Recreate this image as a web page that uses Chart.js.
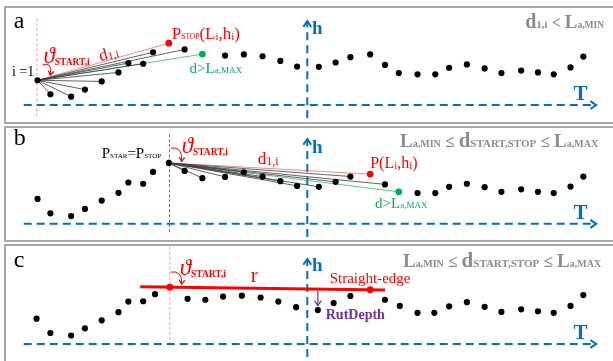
<!DOCTYPE html>
<html>
<head>
<meta charset="utf-8">
<script src="https://cdn.jsdelivr.net/npm/chart.js@4"></script>
<style>
  body { margin: 0; background: #fff; width: 613px; height: 361px; overflow: hidden; position: relative; }
  .box { position: absolute; left: 4px; width: 640px; border: 2px solid #a8a8a8; box-sizing: border-box; }
  canvas { position: absolute; left: 0; }
</style>
</head>
<body>
<div class="box" style="top:6px;height:118px"></div>
<div class="box" style="top:126px;height:116px"></div>
<div class="box" style="top:244px;height:130px"></div>
<canvas id="pa" width="613" height="120" style="top:0"></canvas>
<canvas id="pb" width="613" height="120" style="top:120px"></canvas>
<canvas id="pc" width="613" height="121" style="top:240px"></canvas>
<script>
const SERIF  = '"Liberation Serif", "DejaVu Serif", serif';
const BLUE   = '#0070c0';
const RED    = '#ff0000';
const GREEN  = '#00b050';
const GRAY   = '#8c8c8c';
const PURPLE = '#7030a0';

// profile stations (T) and heights (h)
const T_AB = [14, 27, 48, 62, 79, 96, 106, 121, 131, 147, 163, 181, 204, 223, 242, 260, 277,
              299, 316, 331, 351, 366, 380, 399, 417, 431, 449, 467, 484, 504, 521, 537, 554, 567];
const H_A  = [26.6, 11.6, 9, 16.6, 25.3, 35, 45, 44.3, 56.6, 66.3, 59.6, 54.6, 53, 54.3, 52.3, 47.3, 41.3,
              41, 45.6, 51.3, 54.3, 43, 34.3, 33, 33, 40, 43.6, 39.3, 34.3, 37, 35, 33, 40.3, 52];
const H_B  = [26.7, 11.3, 8.3, 16, 25, 33.3, 44.3, 43, 55.7, 65.3, 56.7, 49, 50.3, 55.3, 50.7, 45.7, 40.7,
              39.7, 45, 50.7, 53.3, 42.3, 34.3, 33, 33, 39.7, 43, 39.3, 34.3, 37, 34.3, 33, 40, 50.7];
const T_C  = [13, 27, 48, 62, 79, 96, 106, 121, 133, 148, 166, 184, 202, 221, 240, 258, 276,
              298, 314, 331, 351, 366, 381, 399, 416, 431, 449, 467, 484, 504, 521, 537, 554, 567];
const H_C  = [27, 11.7, 9, 16.7, 25.3, 34, 45.3, 45.7, 53.3, 60.7, 48.3, 47.3, 50.7, 51.7, 49.7, 45.3, 39.3,
              36.3, 43.7, 51.3, 58, 47.3, 40.7, 33.3, 33.3, 40.3, 44.7, 39.7, 34.3, 37, 35, 33.3, 40.7, 52.3];

// start / stop / first point beyond La,MAX for each panel
const FAN_A = { start: 0, stop: 9, far: 11 };
const FAN_B = { start: 9, stop: 20, far: 22 };
const EDGE_C = { start: 9, stop: 20 };

// ---- helpers ----
function rich(ctx, x, y, runs, color, align) {
  // runs: [text, size, bold, italic, dy]
  const font = r => (r[3] ? 'italic ' : '') + (r[2] ? 'bold ' : '') + r[1] + 'px ' + SERIF;
  let w = 0;
  runs.forEach(r => { ctx.font = font(r); w += ctx.measureText(r[0]).width; });
  if (align === 'right') x -= w;
  if (align === 'center') x -= w / 2;
  ctx.fillStyle = color;
  ctx.textBaseline = 'alphabetic';
  runs.forEach(r => {
    ctx.font = font(r);
    ctx.fillText(r[0], x, y + (r[4] || 0));
    x += ctx.measureText(r[0]).width;
  });
}

function dashed(ctx, pts, color, width, dash) {
  ctx.save();
  ctx.strokeStyle = color; ctx.lineWidth = width; ctx.setLineDash(dash);
  ctx.beginPath(); ctx.moveTo(pts[0][0], pts[0][1]); ctx.lineTo(pts[1][0], pts[1][1]); ctx.stroke();
  ctx.restore();
}

function head(ctx, x, y, ang, size, color, width) {
  ctx.save();
  ctx.strokeStyle = color; ctx.lineWidth = width; ctx.setLineDash([]);
  ctx.beginPath();
  ctx.moveTo(x - size * Math.cos(ang - 0.6), y - size * Math.sin(ang - 0.6));
  ctx.lineTo(x, y);
  ctx.lineTo(x - size * Math.cos(ang + 0.6), y - size * Math.sin(ang + 0.6));
  ctx.stroke();
  ctx.restore();
}

function curl(ctx, a, c, b, color) {
  ctx.save();
  ctx.strokeStyle = color; ctx.lineWidth = 1;
  ctx.beginPath(); ctx.moveTo(a[0], a[1]); ctx.quadraticCurveTo(c[0], c[1], b[0], b[1]); ctx.stroke();
  head(ctx, b[0], b[1], Math.atan2(b[1] - c[1], b[0] - c[0]), 5, color, 1.2);
  ctx.restore();
}

const THETA = [['\u03D1', 23, false, true], ['START,i', 9.5, true, false, 2]];
const COND_MINMAX = [['L', 19, true], ['a,MIN', 10, true, false, 0], [' \u2264 ', 17, true], ['d', 21, true],
                     ['START,STOP', 11, true, false, 0], [' \u2264 ', 17, true], ['L', 19, true], ['a,MAX', 10, true, false, 0]];
const D_GT = [['d>L', 15], ['a,MAX', 9, false, false, 0]];

function axesPlugin(hTop, vLine) {
  return {
    id: 'axes',
    beforeDatasetsDraw(chart) {
      const { ctx, scales: { x, y } } = chart;
      const P = (t, h) => [x.getPixelForValue(t), y.getPixelForValue(h)];
      // red dashed line through the start point
      dashed(ctx, [P(vLine[0], vLine[1]), P(vLine[0], vLine[2])], vLine[3], 1, [3, 2]);
      // blue axes
      dashed(ctx, [P(0, 0), P(578, 0)], BLUE, 2, [8, 5]);
      dashed(ctx, [P(287.3, -14), P(287.3, hTop)], BLUE, 2, [8, 5]);
      const tip = P(580, 0), top = P(287.3, hTop);
      head(ctx, tip[0], tip[1], 0, 7, BLUE, 2);
      head(ctx, top[0], top[1], -Math.PI / 2, 7, BLUE, 2);
    }
  };
}

function labelsPlugin(draw) {
  return {
    id: 'labels',
    afterDatasetsDraw(chart) {
      const { ctx, scales: { x, y } } = chart;
      const P = (t, h) => [x.getPixelForValue(t), y.getPixelForValue(h)];
      ctx.save();
      draw(ctx, P);
      ctx.restore();
    }
  };
}

function pointSets(T, H, red, green) {
  const black = [];
  T.forEach((t, i) => { if (!red.includes(i) && i !== green) black.push({ x: t, y: H[i] }); });
  const sets = [{ type: 'scatter', data: black, backgroundColor: '#000', borderWidth: 0, pointRadius: 3.1, order: 0, clip: false }];
  sets.push({ type: 'scatter', data: red.map(i => ({ x: T[i], y: H[i] })), backgroundColor: RED, borderWidth: 0, pointRadius: 3.4, order: 0, clip: false });
  if (green != null)
    sets.push({ type: 'scatter', data: [{ x: T[green], y: H[green] }], backgroundColor: GREEN, borderWidth: 0, pointRadius: 3.4, order: 0, clip: false });
  return sets;
}

function fanSets(T, H, f) {
  const sets = [];
  for (let i = f.start + 1; i <= f.far; i++) {
    const col = i === f.stop ? 'rgba(240,80,80,.85)' : i === f.far ? 'rgba(0,176,80,.85)' : '#3c3c3c';
    sets.push({ type: 'line', data: [{ x: T[f.start], y: H[f.start] }, { x: T[i], y: H[i] }],
      borderColor: col, borderWidth: 0.8, pointRadius: 0, order: 2, clip: false });
  }
  return sets;
}

function panel(id, datasets, yMin, yMax, plugins) {
  return new Chart(document.getElementById(id), {
    type: 'scatter',
    data: { datasets },
    options: {
      responsive: false, animation: false, events: [],
      layout: { padding: 0 },
      plugins: { legend: { display: false }, tooltip: { enabled: false } },
      scales: {
        x: { type: 'linear', display: false, min: -20, max: 593 },
        y: { type: 'linear', display: false, min: yMin, max: yMax }
      }
    },
    plugins
  });
}

// ── a ──────────────────────────────────────────────────────────────────
panel('pa', [...fanSets(T_AB, H_A, FAN_A), ...pointSets(T_AB, H_A, [FAN_A.stop], FAN_A.far)], -11.7, 108.3, [
  axesPlugin(90, [T_AB[FAN_A.start] - 0.7, 93, -14, '#f4a0a0']),
  labelsPlugin((ctx, P) => {
    let p;
    p = P(-10, 83);  rich(ctx, p[0], p[1], [['a', 24]], '#000');
    p = P(-12, 31);  rich(ctx, p[0], p[1], [['i =1', 14]], '#000');
    p = P(20, 45);   rich(ctx, p[0], p[1], THETA, RED);
    curl(ctx, P(19, 43), P(29, 47), P(27, 32), RED);
    // d1,i along the red line
    const a0 = P(T_AB[FAN_A.start], H_A[FAN_A.start]), a1 = P(T_AB[FAN_A.stop], H_A[FAN_A.stop]);
    const ang = Math.atan2(a1[1] - a0[1], a1[0] - a0[0]);
    p = P(86, 55);
    ctx.save(); ctx.translate(p[0], p[1]); ctx.rotate(ang);
    rich(ctx, 0, 5, [['d', 17], ['1,i', 11, false, false, 1]], RED, 'center');
    ctx.restore();
    p = P(150, 71);
    rich(ctx, p[0], p[1], [['P', 17], ['STOP', 7.5], ['(L', 17], ['i', 11, false, false, 1], [',h', 17], ['i', 11, false, false, 1], [')', 17]], RED);
    p = P(168, 34);  rich(ctx, p[0], p[1], D_GT, GREEN);
    p = P(588, 83);
    rich(ctx, p[0], p[1], [['d', 20, true], ['1,i', 11, true, false, 0], [' < ', 16, true], ['L', 19, true], ['a,MIN', 9.5, true, false, 0]], GRAY, 'right');
    p = P(292, 76);  rich(ctx, p[0], p[1], [['h', 19, true]], BLUE);
    p = P(557, 5);   rich(ctx, p[0], p[1], [['T', 21, true]], BLUE);
  })
]);

// ── b ──────────────────────────────────────────────────────────────────
panel('pb', [...fanSets(T_AB, H_B, FAN_B), ...pointSets(T_AB, H_B, [FAN_B.stop], FAN_B.far)], -13, 107, [
  axesPlugin(91, [T_AB[FAN_B.start] + 0.7, 96, -10, '#ff3b3b']),
  labelsPlugin((ctx, P) => {
    let p;
    p = P(-10, 84);  rich(ctx, p[0], p[1], [['b', 24]], '#000');
    p = P(79, 71);   rich(ctx, p[0], p[1], [['P', 15], ['STAR', 7], ['=P', 15], ['STOP', 7]], '#000');
    p = P(160, 76);  rich(ctx, p[0], p[1], THETA, RED);
    curl(ctx, P(149, 81), P(161, 84), P(160, 67), RED);
    p = P(237, 64);  rich(ctx, p[0], p[1], [['d', 17], ['1,i', 12, false, false, 1]], RED);
    p = P(351, 60);
    rich(ctx, p[0], p[1], [['P(L', 16], ['i', 11, false, false, 1], [',h', 16], ['i', 11, false, false, 1], [')', 16]], RED);
    p = P(356, 17);  rich(ctx, p[0], p[1], D_GT, GREEN);
    p = P(582, 82);  rich(ctx, p[0], p[1], COND_MINMAX, GRAY, 'right');
    p = P(292, 76);  rich(ctx, p[0], p[1], [['h', 19, true]], BLUE);
    p = P(557, 5);   rich(ctx, p[0], p[1], [['T', 21, true]], BLUE);
  })
]);

// ── c ──────────────────────────────────────────────────────────────────
const sx = T_C[EDGE_C.start], sy = H_C[EDGE_C.start], ex = T_C[EDGE_C.stop], ey = H_C[EDGE_C.stop];
const slope = (ey - sy) / (ex - sx);
const edgeSet = { type: 'line', data: [{ x: 118, y: sy + slope * (118 - sx) }, { x: 366, y: sy + slope * (366 - sx) }],
  borderColor: RED, borderWidth: 3, pointRadius: 0, order: 1, clip: false };
panel('pc', [edgeSet, ...pointSets(T_C, H_C, [EDGE_C.start, EDGE_C.stop], null)], -14, 107, [
  axesPlugin(91, [T_C[EDGE_C.start], 104, -4, '#f4a0a0']),
  labelsPlugin((ctx, P) => {
    let p;
    p = P(-10, 82);  rich(ctx, p[0], p[1], [['c', 24]], '#000');
    p = P(158, 74);  rich(ctx, p[0], p[1], THETA, RED);
    curl(ctx, P(149, 77), P(161, 79), P(160, 64), RED);
    p = P(230, 66);  rich(ctx, p[0], p[1], [['r', 21]], RED);
    p = P(310, 65);  rich(ctx, p[0], p[1], [['Straight-edge', 15]], RED);
    p = P(306, 27);  rich(ctx, p[0], p[1], [['RutDepth', 14, true]], PURPLE);
    // rut depth arrow
    const a = P(298, 57), b = P(298, 41);
    ctx.strokeStyle = PURPLE; ctx.lineWidth = 1.2;
    ctx.beginPath(); ctx.moveTo(a[0], a[1]); ctx.lineTo(b[0], b[1]); ctx.stroke();
    head(ctx, b[0], b[1], Math.PI / 2, 6, PURPLE, 1.2);
    p = P(585, 82);  rich(ctx, p[0], p[1], COND_MINMAX, GRAY, 'right');
    p = P(292, 78);  rich(ctx, p[0], p[1], [['h', 19, true]], BLUE);
    p = P(557, 5);   rich(ctx, p[0], p[1], [['T', 21, true]], BLUE);
  })
]);
</script>
</body>
</html>
